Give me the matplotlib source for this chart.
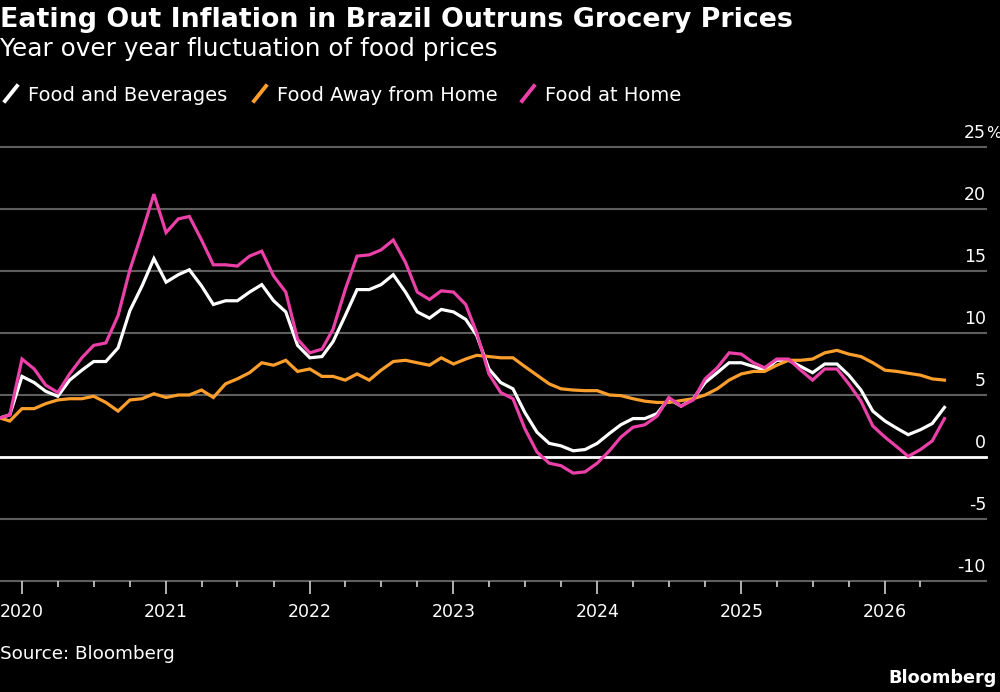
import numpy as np
import pandas as pd
import matplotlib
matplotlib.use('Agg')
import matplotlib.pyplot as plt
import matplotlib.dates as mdates
import matplotlib.transforms as mtransforms
from matplotlib.lines import Line2D

# donnees: variation annuelle (%), mensuelle, nov 2019 -> juin 2026
debut = '2019-11-01'

food_bev = [3.1, 3.4,
            6.5, 6.0, 5.3, 4.9, 6.2, 7.0, 7.7, 7.7, 8.8, 11.8, 13.8, 16.0,
            14.1, 14.7, 15.1, 13.8, 12.3, 12.6, 12.6, 13.3, 13.9, 12.6, 11.7, 9.0,
            8.0, 8.1, 9.3, 11.4, 13.5, 13.5, 13.9, 14.7, 13.3, 11.7, 11.2, 11.9,
            11.7, 11.1, 9.8, 7.1, 6.0, 5.5, 3.6, 2.0, 1.1, 0.9, 0.5, 0.6,
            1.1, 1.9, 2.6, 3.1, 3.1, 3.5, 4.7, 4.1, 4.7, 6.0, 6.8, 7.6,
            7.6, 7.3, 7.0, 7.8, 7.8, 7.3, 6.8, 7.5, 7.5, 6.6, 5.4, 3.7,
            2.9, 2.3, 1.8, 2.2, 2.7, 4.0]

food_away = [3.2, 2.9,
             3.9, 3.9, 4.3, 4.6, 4.7, 4.7, 4.9, 4.4, 3.7, 4.6, 4.7, 5.1,
             4.8, 5.0, 5.0, 5.4, 4.8, 5.9, 6.3, 6.8, 7.6, 7.4, 7.8, 6.9,
             7.1, 6.5, 6.5, 6.2, 6.7, 6.2, 7.0, 7.7, 7.8, 7.6, 7.4, 8.0,
             7.5, 7.9, 8.2, 8.1, 8.0, 8.0, 7.3, 6.6, 5.9, 5.5, 5.4, 5.35,
             5.35, 5.0, 4.95, 4.7, 4.5, 4.4, 4.4, 4.55, 4.7, 5.0, 5.5, 6.2,
             6.7, 6.9, 6.9, 7.4, 7.8, 7.8, 7.9, 8.4, 8.6, 8.3, 8.1, 7.6,
             7.0, 6.9, 6.75, 6.6, 6.3, 6.2]

food_home = [3.1, 3.4,
             7.9, 7.1, 5.8, 5.2, 6.7, 8.0, 9.0, 9.2, 11.4, 15.1, 18.1, 21.2,
             18.1, 19.2, 19.4, 17.5, 15.5, 15.5, 15.4, 16.2, 16.6, 14.6, 13.3, 9.5,
             8.4, 8.7, 10.3, 13.5, 16.2, 16.3, 16.7, 17.5, 15.7, 13.3, 12.7, 13.4,
             13.3, 12.3, 10.0, 6.7, 5.2, 4.7, 2.3, 0.4, -0.5, -0.7, -1.3, -1.2,
             -0.5, 0.5, 1.6, 2.4, 2.6, 3.3, 4.8, 4.1, 4.6, 6.3, 7.2, 8.4,
             8.3, 7.6, 7.2, 7.9, 7.9, 7.0, 6.2, 7.1, 7.1, 5.9, 4.5, 2.5,
             1.6, 0.8, 0.05, 0.6, 1.3, 3.1]

noms = ['Food and Beverages', 'Food Away from Home', 'Food at Home']
couleurs = ['#ffffff', '#fb9e2c', '#ea40a8']

y_ticks = [-10, -5, 0, 5, 10, 15, 20, 25]
annees = [2020, 2021, 2022, 2023, 2024, 2025, 2026]

titre = 'Eating Out Inflation in Brazil Outruns Grocery Prices'
sous_titre = 'Year over year fluctuation of food prices'
source = 'Source: Bloomberg'

dates = pd.date_range(debut, periods=len(food_bev), freq='MS')

# figure
W, H = 1000, 692
fig = plt.figure(figsize=(W / 100, H / 100), dpi=100, facecolor='black')
ax = fig.add_axes([0, 1 - 581 / H, 986 / W, (581 - 147) / H])
ax.set_facecolor('black')
for s in ax.spines.values():
    s.set_visible(False)

# grille
for v in y_ticks:
    if v == 0:
        ax.axhline(v, color='white', lw=2, zorder=2, clip_on=False)
    else:
        ax.axhline(v, color='#5e5e5e', lw=1.5, zorder=1, clip_on=False)

for serie, nom, c in zip([food_bev, food_away, food_home], noms, couleurs):
    ax.plot(dates, serie, color=c, lw=2.3, zorder=3, solid_joinstyle='miter')

ax.set_ylim(-10, 25)
x0 = mdates.date2num(pd.Timestamp('2020-01-01'))
px_an = 143.8 / 365.25
ax.set_xlim(x0 - 22 / px_an, x0 + (986 - 22) / px_an)

# axe x
ax.set_xticks([pd.Timestamp(f'{a}-01-01') for a in annees])
ax.set_xticklabels([str(a) for a in annees])
trim = [d for d in dates if d.month in (4, 7, 10)]
ax.set_xticks(trim, minor=True)
ax.tick_params(axis='x', which='major', length=9, width=1.2, color='#cfcfcf',
               labelcolor='white', labelsize=12.5, pad=7)
ax.tick_params(axis='x', which='minor', length=4, width=1.2, color='#cfcfcf')
ax.tick_params(axis='y', left=False, labelleft=False)

# etiquettes y au-dessus des lignes
trans = mtransforms.offset_copy(ax.get_yaxis_transform(), fig=fig, x=0, y=9, units='dots')
for v in y_ticks:
    ax.text(1.0, v, str(v), transform=trans, ha='right', va='baseline',
            color='white', fontsize=12.5, clip_on=False)
    if v == y_ticks[-1]:
        ax.text(1.0, v, '%', transform=trans, ha='left', va='baseline',
                color='white', fontsize=11.5, clip_on=False)

# titres
fig.text(0, 1 - 27 / H, titre, color='white', fontsize=19.4, fontweight='bold', va='baseline')
fig.text(0, 1 - 56 / H, sous_titre, color='white', fontsize=17.8, va='baseline')

# legende
lx = [4, 253, 521]
for x, nom, c in zip(lx, noms, couleurs):
    fig.add_artist(Line2D([(x + 1) / W, (x + 13) / W], [1 - 101 / H, 1 - 86 / H],
                          color=c, lw=2.8, transform=fig.transFigure))
    fig.text((x + 24) / W, 1 - 101 / H, nom, color='white', fontsize=14, va='baseline')

fig.text(0, 1 - 659 / H, source, color='white', fontsize=13.2, va='baseline')
fig.text(997 / W, 1 - 683 / H, 'Bloomberg', color='white', fontsize=12.7,
         fontweight='bold', ha='right', va='baseline')

fig.savefig('out.png', dpi=100, facecolor='black')
